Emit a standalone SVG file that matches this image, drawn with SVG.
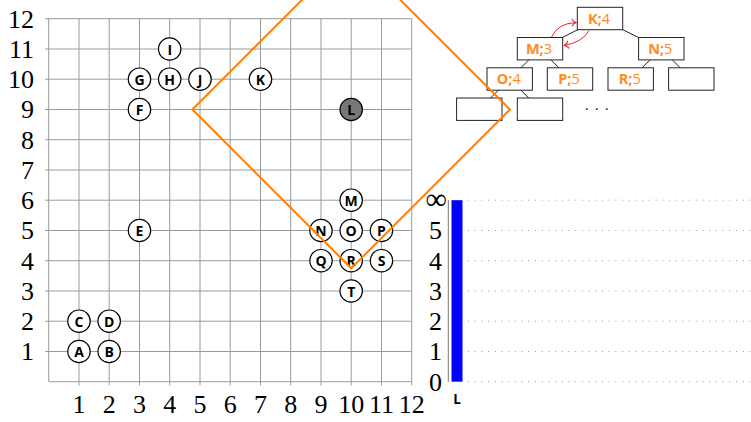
<svg xmlns="http://www.w3.org/2000/svg" width="751" height="422" viewBox="0 0 751 422">
<defs>
<style>
.grid{stroke:#9a9a9a;stroke-width:1;fill:none}
.ax{font-family:"Liberation Serif",serif;font-size:26px;fill:#000}
.nd circle{fill:#fff;stroke:#000;stroke-width:1.2}
.nd text{font-family:"Open Sans",sans-serif;font-weight:bold;font-size:14px;text-anchor:middle;dominant-baseline:central;fill:#000}
.box rect{fill:#fff;stroke:#222;stroke-width:1}
.box text{font-family:"Open Sans",sans-serif;font-size:14.5px;fill:#ff8c1a;text-anchor:middle}
.edge{stroke:#222;stroke-width:1}
.red{stroke:#ee2222;stroke-width:1;fill:none;marker-end:url(#tip)}
.dot{stroke:#999;stroke-width:1;stroke-dasharray:1 5.7}
</style>
<marker id="tip" viewBox="-6 -5 8 10" markerWidth="8" markerHeight="10" refX="0" refY="0" orient="auto" markerUnits="userSpaceOnUse">
<path d="M-4.5,-3.8 C-3.5,-1.2 -1.2,-0.2 0,0 C-1.2,0.2 -3.5,1.2 -4.5,3.8" fill="none" stroke="#ee2222" stroke-width="1"/>
</marker>
</defs>
<rect width="751" height="422" fill="#fff"/>
<g id="grid" class="grid">
<path d="M48.7,18.7V381.7M79,18.7V385.5M109.2,18.7V385.5M139.5,18.7V385.5M169.7,18.7V385.5M200,18.7V385.5M230.2,18.7V385.5M260.5,18.7V385.5M290.7,18.7V385.5M321,18.7V385.5M351.2,18.7V385.5M381.5,18.7V385.5M411.7,18.7V385.5"/>
<path d="M48.7,381.7H411.7M45,351.5H411.7M45,321.2H411.7M45,291H411.7M45,260.7H411.7M45,230.5H411.7M45,200.2H411.7M45,170H411.7M45,139.7H411.7M45,109.5H411.7M45,79.2H411.7M45,49H411.7M45,18.7H411.7"/>
</g>
<g id="y-labels" class="ax" text-anchor="end">
<text x="34" y="360.3">1</text><text x="34" y="330">2</text><text x="34" y="299.8">3</text><text x="34" y="269.5">4</text><text x="34" y="239.3">5</text><text x="34" y="209">6</text><text x="34" y="178.8">7</text><text x="34" y="148.5">8</text><text x="34" y="118.3">9</text><text x="34" y="88">10</text><text x="34" y="57.8">11</text><text x="34" y="27.5">12</text>
</g>
<g id="x-labels" class="ax" text-anchor="middle">
<text x="79" y="413">1</text><text x="109.2" y="413">2</text><text x="139.5" y="413">3</text><text x="169.7" y="413">4</text><text x="200" y="413">5</text><text x="230.2" y="413">6</text><text x="260.5" y="413">7</text><text x="290.7" y="413">8</text><text x="321" y="413">9</text><text x="351.2" y="413">10</text><text x="381.5" y="413">11</text><text x="411.7" y="413">12</text>
</g>
<g id="nodes">
<g id="node-A" class="nd"><circle cx="79" cy="351.5" r="11.2"/><text x="79" y="351.5">A</text></g>
<g id="node-B" class="nd"><circle cx="109.2" cy="351.5" r="11.2"/><text x="109.2" y="351.5">B</text></g>
<g id="node-C" class="nd"><circle cx="79" cy="321.2" r="11.2"/><text x="79" y="321.2">C</text></g>
<g id="node-D" class="nd"><circle cx="109.2" cy="321.2" r="11.2"/><text x="109.2" y="321.2">D</text></g>
<g id="node-E" class="nd"><circle cx="139.5" cy="230.5" r="11.2"/><text x="139.5" y="230.5">E</text></g>
<g id="node-F" class="nd"><circle cx="139.5" cy="109.5" r="11.2"/><text x="139.5" y="109.5">F</text></g>
<g id="node-G" class="nd"><circle cx="139.5" cy="79.2" r="11.2"/><text x="139.5" y="79.2">G</text></g>
<g id="node-H" class="nd"><circle cx="169.7" cy="79.2" r="11.2"/><text x="169.7" y="79.2">H</text></g>
<g id="node-I" class="nd"><circle cx="169.7" cy="49" r="11.2"/><text x="169.7" y="49">I</text></g>
<g id="node-J" class="nd"><circle cx="200" cy="79.2" r="11.2"/><text x="200" y="79.2">J</text></g>
<g id="node-K" class="nd"><circle cx="260.5" cy="79.2" r="11.2"/><text x="260.5" y="79.2">K</text></g>
<g id="node-L" class="nd"><circle cx="351.2" cy="109.5" r="11.2" style="fill:#777"/><text x="351.2" y="109.5">L</text></g>
<g id="node-M" class="nd"><circle cx="351.2" cy="200.2" r="11.2"/><text x="351.2" y="200.2">M</text></g>
<g id="node-N" class="nd"><circle cx="321" cy="230.5" r="11.2"/><text x="321" y="230.5">N</text></g>
<g id="node-O" class="nd"><circle cx="351.2" cy="230.5" r="11.2"/><text x="351.2" y="230.5">O</text></g>
<g id="node-P" class="nd"><circle cx="381.5" cy="230.5" r="11.2"/><text x="381.5" y="230.5">P</text></g>
<g id="node-Q" class="nd"><circle cx="321" cy="260.7" r="11.2"/><text x="321" y="260.7">Q</text></g>
<g id="node-R" class="nd"><circle cx="351.2" cy="260.7" r="11.2"/><text x="351.2" y="260.7">R</text></g>
<g id="node-S" class="nd"><circle cx="381.5" cy="260.7" r="11.2"/><text x="381.5" y="260.7">S</text></g>
<g id="node-T" class="nd"><circle cx="351.2" cy="291" r="11.2"/><text x="351.2" y="291">T</text></g>
</g>
<g id="bar-chart">
<g class="dot">
<path d="M468,381.7H751M468,351.5H751M468,321.2H751M468,291H751M468,260.7H751M468,230.5H751M468,200.2H751"/>
</g>
<line x1="448.3" y1="200.2" x2="448.3" y2="381.7" stroke="#777" stroke-width="1"/>
<g class="ax" text-anchor="end">
<text x="442" y="390.5">0</text><text x="442" y="360.3">1</text><text x="442" y="330">2</text><text x="442" y="299.8">3</text><text x="442" y="269.5">4</text><text x="442" y="239.3">5</text><text x="447" y="209" font-size="30">∞</text>
</g>
<rect x="451.5" y="200.2" width="11" height="181.5" fill="#0000ff"/>
<text x="457" y="404" font-family="Open Sans,sans-serif" font-weight="bold" font-size="13.5px" text-anchor="middle">L</text>
</g>
<g id="tree-edges">
<line class="edge" x1="600" y1="18.5" x2="540" y2="48.7"/>
<line class="edge" x1="600" y1="18.5" x2="661.3" y2="48.7"/>
<line class="edge" x1="540" y1="48.7" x2="509.7" y2="79"/>
<line class="edge" x1="540" y1="48.7" x2="570" y2="79"/>
<line class="edge" x1="661.3" y1="48.7" x2="630.7" y2="79"/>
<line class="edge" x1="661.3" y1="48.7" x2="691.3" y2="79"/>
<line class="edge" x1="509.7" y1="79" x2="479.3" y2="109.2"/>
<line class="edge" x1="509.7" y1="79" x2="540" y2="109.2"/>
</g>
<g id="tree-nodes">
<g id="t-K" class="box"><rect x="577.3" y="7.3" width="45.4" height="22.4"/><text x="599" y="23.5"><tspan font-weight="bold">K;</tspan>4</text></g>
<g id="t-M" class="box"><rect x="517.3" y="37.5" width="45.4" height="22.4"/><text x="539" y="53.7"><tspan font-weight="bold">M;</tspan>3</text></g>
<g id="t-N" class="box"><rect x="638.6" y="37.5" width="45.4" height="22.4"/><text x="660.3" y="53.7"><tspan font-weight="bold">N;</tspan>5</text></g>
<g id="t-O" class="box"><rect x="487" y="67.8" width="45.4" height="22.4"/><text x="508.7" y="84"><tspan font-weight="bold">O;</tspan>4</text></g>
<g id="t-P" class="box"><rect x="547.3" y="67.8" width="45.4" height="22.4"/><text x="569" y="84"><tspan font-weight="bold">P;</tspan>5</text></g>
<g id="t-R" class="box"><rect x="608" y="67.8" width="45.4" height="22.4"/><text x="629.7" y="84"><tspan font-weight="bold">R;</tspan>5</text></g>
<g id="t-e1" class="box"><rect x="668.6" y="67.8" width="45.4" height="22.4"/></g>
<g id="t-e2" class="box"><rect x="456.6" y="98" width="45.4" height="22.4"/></g>
<g id="t-e3" class="box"><rect x="517.3" y="98" width="45.4" height="22.4"/></g>
<text x="585" y="110" font-family="Liberation Serif,serif" font-size="14px" letter-spacing="6.5">...</text>
</g>
<g id="swap-arrows">
<path class="red" d="M551.5,37 Q558,23 576.5,22.5"/>
<path class="red" d="M589,30.5 Q583,42 564,45.5"/>
</g>
<g id="diamond">
<path d="M192.4,109.5 L351.2,-49.3 L510,109.5 L351.2,268.3 Z" fill="none" stroke="#ff8000" stroke-width="2" stroke-linejoin="miter"/>
</g>
</svg>
